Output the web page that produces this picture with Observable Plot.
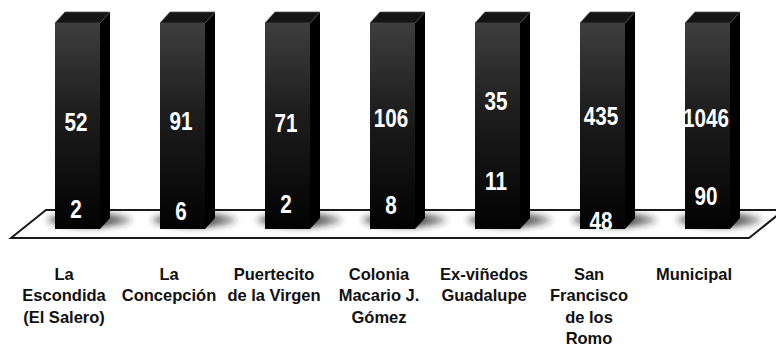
<!DOCTYPE html>
<html><head><meta charset="utf-8">
<script src="https://cdn.jsdelivr.net/npm/d3@7"></script>
<script src="https://cdn.jsdelivr.net/npm/@observablehq/plot@0.6"></script>
<style>body{margin:0;background:#fff}</style>
</head><body>
<svg width="0" height="0" style="position:absolute"><defs>
<linearGradient id="frontGrad" x1="0" y1="0" x2="0" y2="1">
<stop offset="0" stop-color="#3e3e3e"/><stop offset="0.45" stop-color="#1c1c1c"/><stop offset="1" stop-color="#020202"/>
</linearGradient>
<linearGradient id="shadowGrad" x1="0" y1="0" x2="1" y2="0">
<stop offset="0" stop-color="#222" stop-opacity="0.5"/><stop offset="0.6" stop-color="#222" stop-opacity="0.9"/><stop offset="1" stop-color="#222" stop-opacity="0.3"/>
</linearGradient>
<filter id="shadowBlur" x="-50%" y="-100%" width="200%" height="300%"><feGaussianBlur stdDeviation="3"/></filter>
</defs></svg>
<div id="chart"></div>
<script>
const categories = ["La\nEscondida\n(El Salero)", "La\nConcepción", "Puertecito\nde la Virgen", "Colonia\nMacario J.\nGómez", "Ex-viñedos\nGuadalupe", "San\nFrancisco\nde los\nRomo", "Municipal"];
const topValues = [52, 91, 71, 106, 35, 435, 1046];
const bottomValues = [2, 6, 2, 8, 11, 48, 90];
// label heights, in % of the bar height
const topLabelLevel = [51.9, 52.4, 51.0, 53.4, 62.1, 54.4, 53.4];
const bottomLabelLevel = [9.7, 8.7, 12.1, 11.2, 23.3, 3.4, 16.0];
const barLevel = 100;

const bars = categories.map(c => ({category: c, level: barLevel}));
const topLabels = categories.map((c, i) => ({category: c, value: topValues[i], level: topLabelLevel[i]}));
const bottomLabels = categories.map((c, i) => ({category: c, value: bottomValues[i], level: bottomLabelLevel[i]}));

const numFont = "'Liberation Sans Narrow', 'Arial Narrow', 'Liberation Sans', Arial, sans-serif";

const plot = Plot.plot({
  width: 776, height: 347,
  marginTop: 23, marginBottom: 118, marginLeft: 0, marginRight: 0,
  x: {domain: categories, range: [-8.8, 792.6], padding: 0.5747, axis: null},
  y: {domain: [0, 100], axis: null},
  style: {background: "transparent", overflow: "visible"},
  marks: [
    Plot.barY(bars, {x: "category", y: "level", fill: "url(#frontGrad)"}),
    Plot.text(topLabels, {x: "category", y: "level", text: d => String(d.value), fill: "white", fontSize: 25, fontWeight: "bold", fontFamily: numFont, dx: -2}),
    Plot.text(bottomLabels, {x: "category", y: "level", text: d => String(d.value), fill: "white", fontSize: 25, fontWeight: "bold", fontFamily: numFont, dx: -2}),
    Plot.text(categories, {x: d => d, frameAnchor: "bottom", lineAnchor: "top", dy: 35, dx: -14, fontSize: 16.5, fontWeight: "bold", lineHeight: 1.3, fill: "#111", fontFamily: "'Liberation Sans', Arial, sans-serif"})
  ]
});
document.getElementById("chart").appendChild(plot);

// 3D decoration derived from the plot's own scales
const xs = plot.scale("x"), ys = plot.scale("y");
const bw = xs.bandwidth;
const y0 = ys.apply(0), y1 = ys.apply(barLevel);
const dX = 10, dY = 11;
const front = plot.querySelector('g[aria-label="bar"]');
const deco = document.createElementNS("http://www.w3.org/2000/svg", "g");
plot.insertBefore(deco, front);
const g = d3.select(deco);
const xFirst = xs.apply(categories[0]);
const xLast = xs.apply(categories[categories.length - 1]) + bw;
const pts = p => p.map(q => q.join(",")).join(" ");
g.append("polygon")
  .attr("points", pts([[xFirst - 44, y0 + 9], [xFirst - 9, y0 - 19], [xLast + 54, y0 - 19], [xLast + 19, y0 + 9]]))
  .attr("fill", "#fff").attr("stroke", "#1a1a1a").attr("stroke-width", 2);
for (const c of categories) {
  const x0 = xs.apply(c), x1 = x0 + bw;
  g.append("ellipse").attr("cx", (x0 + x1) / 2 + 12).attr("cy", y0 - 9).attr("rx", bw / 2 + 20).attr("ry", 7)
    .attr("fill", "url(#shadowGrad)").attr("filter", "url(#shadowBlur)");
  g.append("polygon").attr("points", pts([[x1, y1], [x1 + dX, y1 - dY], [x1 + dX, y0 - dY], [x1, y0]])).attr("fill", "#000");
  g.append("polygon").attr("points", pts([[x0, y1], [x0 + dX, y1 - dY], [x1 + dX, y1 - dY], [x1, y1]]))
    .attr("fill", "#141414").attr("stroke", "#4a4a4a").attr("stroke-width", 0.7).attr("stroke-linejoin", "round");
}

// squeeze the value labels if no narrow face is available
const textGroups = plot.querySelectorAll('g[aria-label="text"]');
const vt = [...textGroups].slice(0, 2).flatMap(gr => [...gr.querySelectorAll("text")]);
const sample = vt.find(t => t.textContent === "1046");
if (sample) {
  const perChar = sample.getComputedTextLength() / 4 / 25;
  if (perChar > 0.5) {
    const k = 0.46 / perChar;
    vt.forEach(t => {
      const tr = t.getAttribute("transform");
      if (tr) t.setAttribute("transform", tr + ` scale(${k},1)`);
      else {
        const x = +t.getAttribute("x") || 0, y = +t.getAttribute("y") || 0;
        t.removeAttribute("x"); t.removeAttribute("y");
        t.setAttribute("transform", `translate(${x},${y}) scale(${k},1)`);
      }
    });
  }
}
</script>
</body></html>
